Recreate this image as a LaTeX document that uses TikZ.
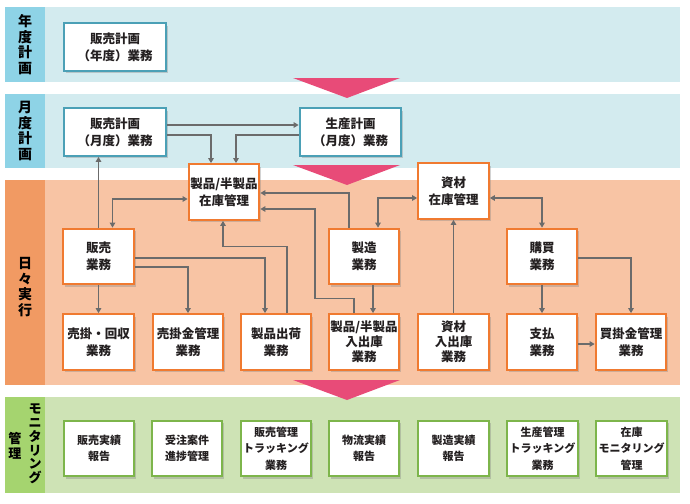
\documentclass[tikz,border=0pt]{standalone}
\usepackage{fontspec}
\setmainfont{Noto Sans CJK JP}
\usetikzlibrary{arrows.meta,shadows}

\definecolor{bandblue}{HTML}{D3EBEF}
\definecolor{stripblue}{HTML}{8ED3E6}
\definecolor{bandorange}{HTML}{F8C4A4}
\definecolor{striporange}{HTML}{F19A63}
\definecolor{bandgreen}{HTML}{CEE3B5}
\definecolor{stripgreen}{HTML}{A5D46F}
\definecolor{flowpink}{HTML}{E84B78}
\definecolor{planedge}{HTML}{4BA0B6}
\definecolor{taskedge}{HTML}{F07A30}
\definecolor{monedge}{HTML}{7DB54B}
\definecolor{linegray}{HTML}{6B6B6B}
\definecolor{textgray}{HTML}{231F20}

\begin{document}
\begin{tikzpicture}[x=1pt, y=-1pt,
  every node/.style = {align=center, text=textgray,
    font=\bfseries\fontsize{12.5}{17}\selectfont},
  box/.style = {shape=rectangle, draw, fill=white, line width=2.2pt,
    minimum width=70.5pt, minimum height=55.5pt, inner sep=1pt,
    drop shadow={shadow xshift=2pt, shadow yshift=-2.5pt, opacity=0.35}},
  plan/.style = {box, draw=planedge, minimum width=101.5pt, minimum height=47.5pt},
  task/.style = {box, draw=taskedge},
  mon/.style = {box, draw=monedge, font=\bfseries\fontsize{11}{16.5}\selectfont},
  lane/.style = {text=black, font=\bfseries\fontsize{14}{15.5}\selectfont},
  link/.style = {draw=linegray, line width=1.2pt,
    -{Triangle[length=5pt,width=5.5pt]}},
  twoway/.style = {link, {Triangle[length=5pt,width=5.5pt]}-{Triangle[length=5pt,width=5.5pt]}}]
  \useasboundingbox (0,0) rectangle (690,503);

  % bands
  \fill[bandblue] (5,7) rectangle (680,82);
  \fill[stripblue] (5,7) rectangle (45,82);
  \fill[bandblue] (5,94) rectangle (680,168);
  \fill[stripblue] (5,94) rectangle (45,168);
  \fill[bandorange] (5,180) rectangle (680,385);
  \fill[striporange] (5,180) rectangle (45,385);
  \fill[bandgreen] (5,397) rectangle (680,493);
  \fill[stripgreen] (5,397) rectangle (45,493);
  \node[lane] (l1) at (25,44.5) {年\\度\\計\\画};
  \node[lane] (l2) at (25,131) {月\\度\\計\\画};
  \node[lane] (l3) at (25,287) {日\\々\\実\\行};
  \node[lane, font=\bfseries\fontsize{13}{13.7}\selectfont] (l4a) at (35,444) {モ\\ニ\\タ\\リ\\ン\\グ};
  \node[lane, font=\bfseries\fontsize{13}{15}\selectfont] (l4b) at (15,446) {管\\理};

  % flow pointers
  \fill[flowpink] (293,78) -- (400,78) -- (347,98) -- cycle;
  \fill[flowpink] (293,165) -- (400,165) -- (347,185) -- cycle;
  \fill[flowpink] (293,380) -- (400,380) -- (347,400) -- cycle;

  % plans
  \node[plan] (nh) at (115,47) {販売計画\\（年度）業務};
  \node[plan] (gh) at (115,132) {販売計画\\（月度）業務};
  \node[plan] (gs) at (350.5,132) {生産計画\\（月度）業務};

  % daily tasks
  \node[task] (sz) at (224,192) {製品/半製品\\在庫管理};
  \node[task] (zz) at (453.5,191) {資材\\在庫管理};
  \node[task] (hb) at (98.5,256.5) {販売\\業務};
  \node[task] (sg) at (364,256.5) {製造\\業務};
  \node[task] (kb) at (542,256.5) {購買\\業務};
  \node[task] (uk) at (98.5,342) {売掛・回収\\業務};
  \node[task] (ukk) at (188,342) {売掛金管理\\業務};
  \node[task] (ss) at (276,342) {製品出荷\\業務};
  \node[task, font=\bfseries\fontsize{12.5}{15}\selectfont] (sn) at (364,342) {製品/半製品\\入出庫\\業務};
  \node[task, font=\bfseries\fontsize{12.5}{15}\selectfont] (zn) at (453.5,342) {資材\\入出庫\\業務};
  \node[task] (sh) at (542,342) {支払\\業務};
  \node[task] (kk) at (631,342) {買掛金管理\\業務};

  % monitoring
  \node[mon] (m1) at (99,448.5) {販売実績\\報告};
  \node[mon] (m2) at (187,448.5) {受注案件\\進捗管理};
  \node[mon] (m3) at (276,448.5) {販売管理\\トラッキング\\業務};
  \node[mon] (m4) at (364,448.5) {物流実績\\報告};
  \node[mon] (m5) at (453.5,448.5) {製造実績\\報告};
  \node[mon] (m6) at (542.5,448.5) {生産管理\\トラッキング\\業務};
  \node[mon] (m7) at (631.5,448.5) {在庫\\モニタリング\\管理};

  % connectors
  \draw[link] ([yshift=7pt]gh.east) -- ([yshift=7pt]gs.west);
  \draw[link] ([yshift=-3pt]gh.east) -| ([xshift=-13pt]sz.north);
  \draw[link] ([yshift=-3pt]gs.west) -| ([xshift=12pt]sz.north);
  \draw[link] (hb.north) -- (hb.north |- gh.south);
  \draw[twoway] ([yshift=-7pt]sz.west) -| ([xshift=14pt]hb.north);
  \draw[link] ([xshift=-15pt]sg.north) |- ([yshift=-1pt]sz.east);
  \draw[link] ([xshift=-10pt]sn.north) -- ++(0,15pt) -- ++(-39pt,0)
    |- ([yshift=-17pt]sz.east);
  \draw[link] ([xshift=11pt]ss.north) -- ++(0,67pt) -| ([xshift=-1pt]sz.south);
  \draw[link] ([yshift=-1.5pt]hb.east) -| ([xshift=-11pt]ss.north);
  \draw[link] ([yshift=-10.5pt]hb.east) -| (ukk.north);
  \draw[link] (hb.south) -- (uk.north);
  \draw[link] ([xshift=9pt]sg.south) -- ([xshift=9pt]sn.north);
  \draw[twoway] ([xshift=14pt]sg.north) |- ([yshift=-7pt]zz.west);
  \draw[twoway] ([yshift=-7pt]zz.east) -| (kb.north);
  \draw[link] (zn.north) -- (zz.south);
  \draw[link] (kb.south) -- (sh.north);
  \draw[link] ([yshift=-1.5pt]kb.east) -| (kk.north);
  \draw[link] ([yshift=-2pt]sh.east) -- ([yshift=-2pt]kk.west);
\end{tikzpicture}
\end{document}
